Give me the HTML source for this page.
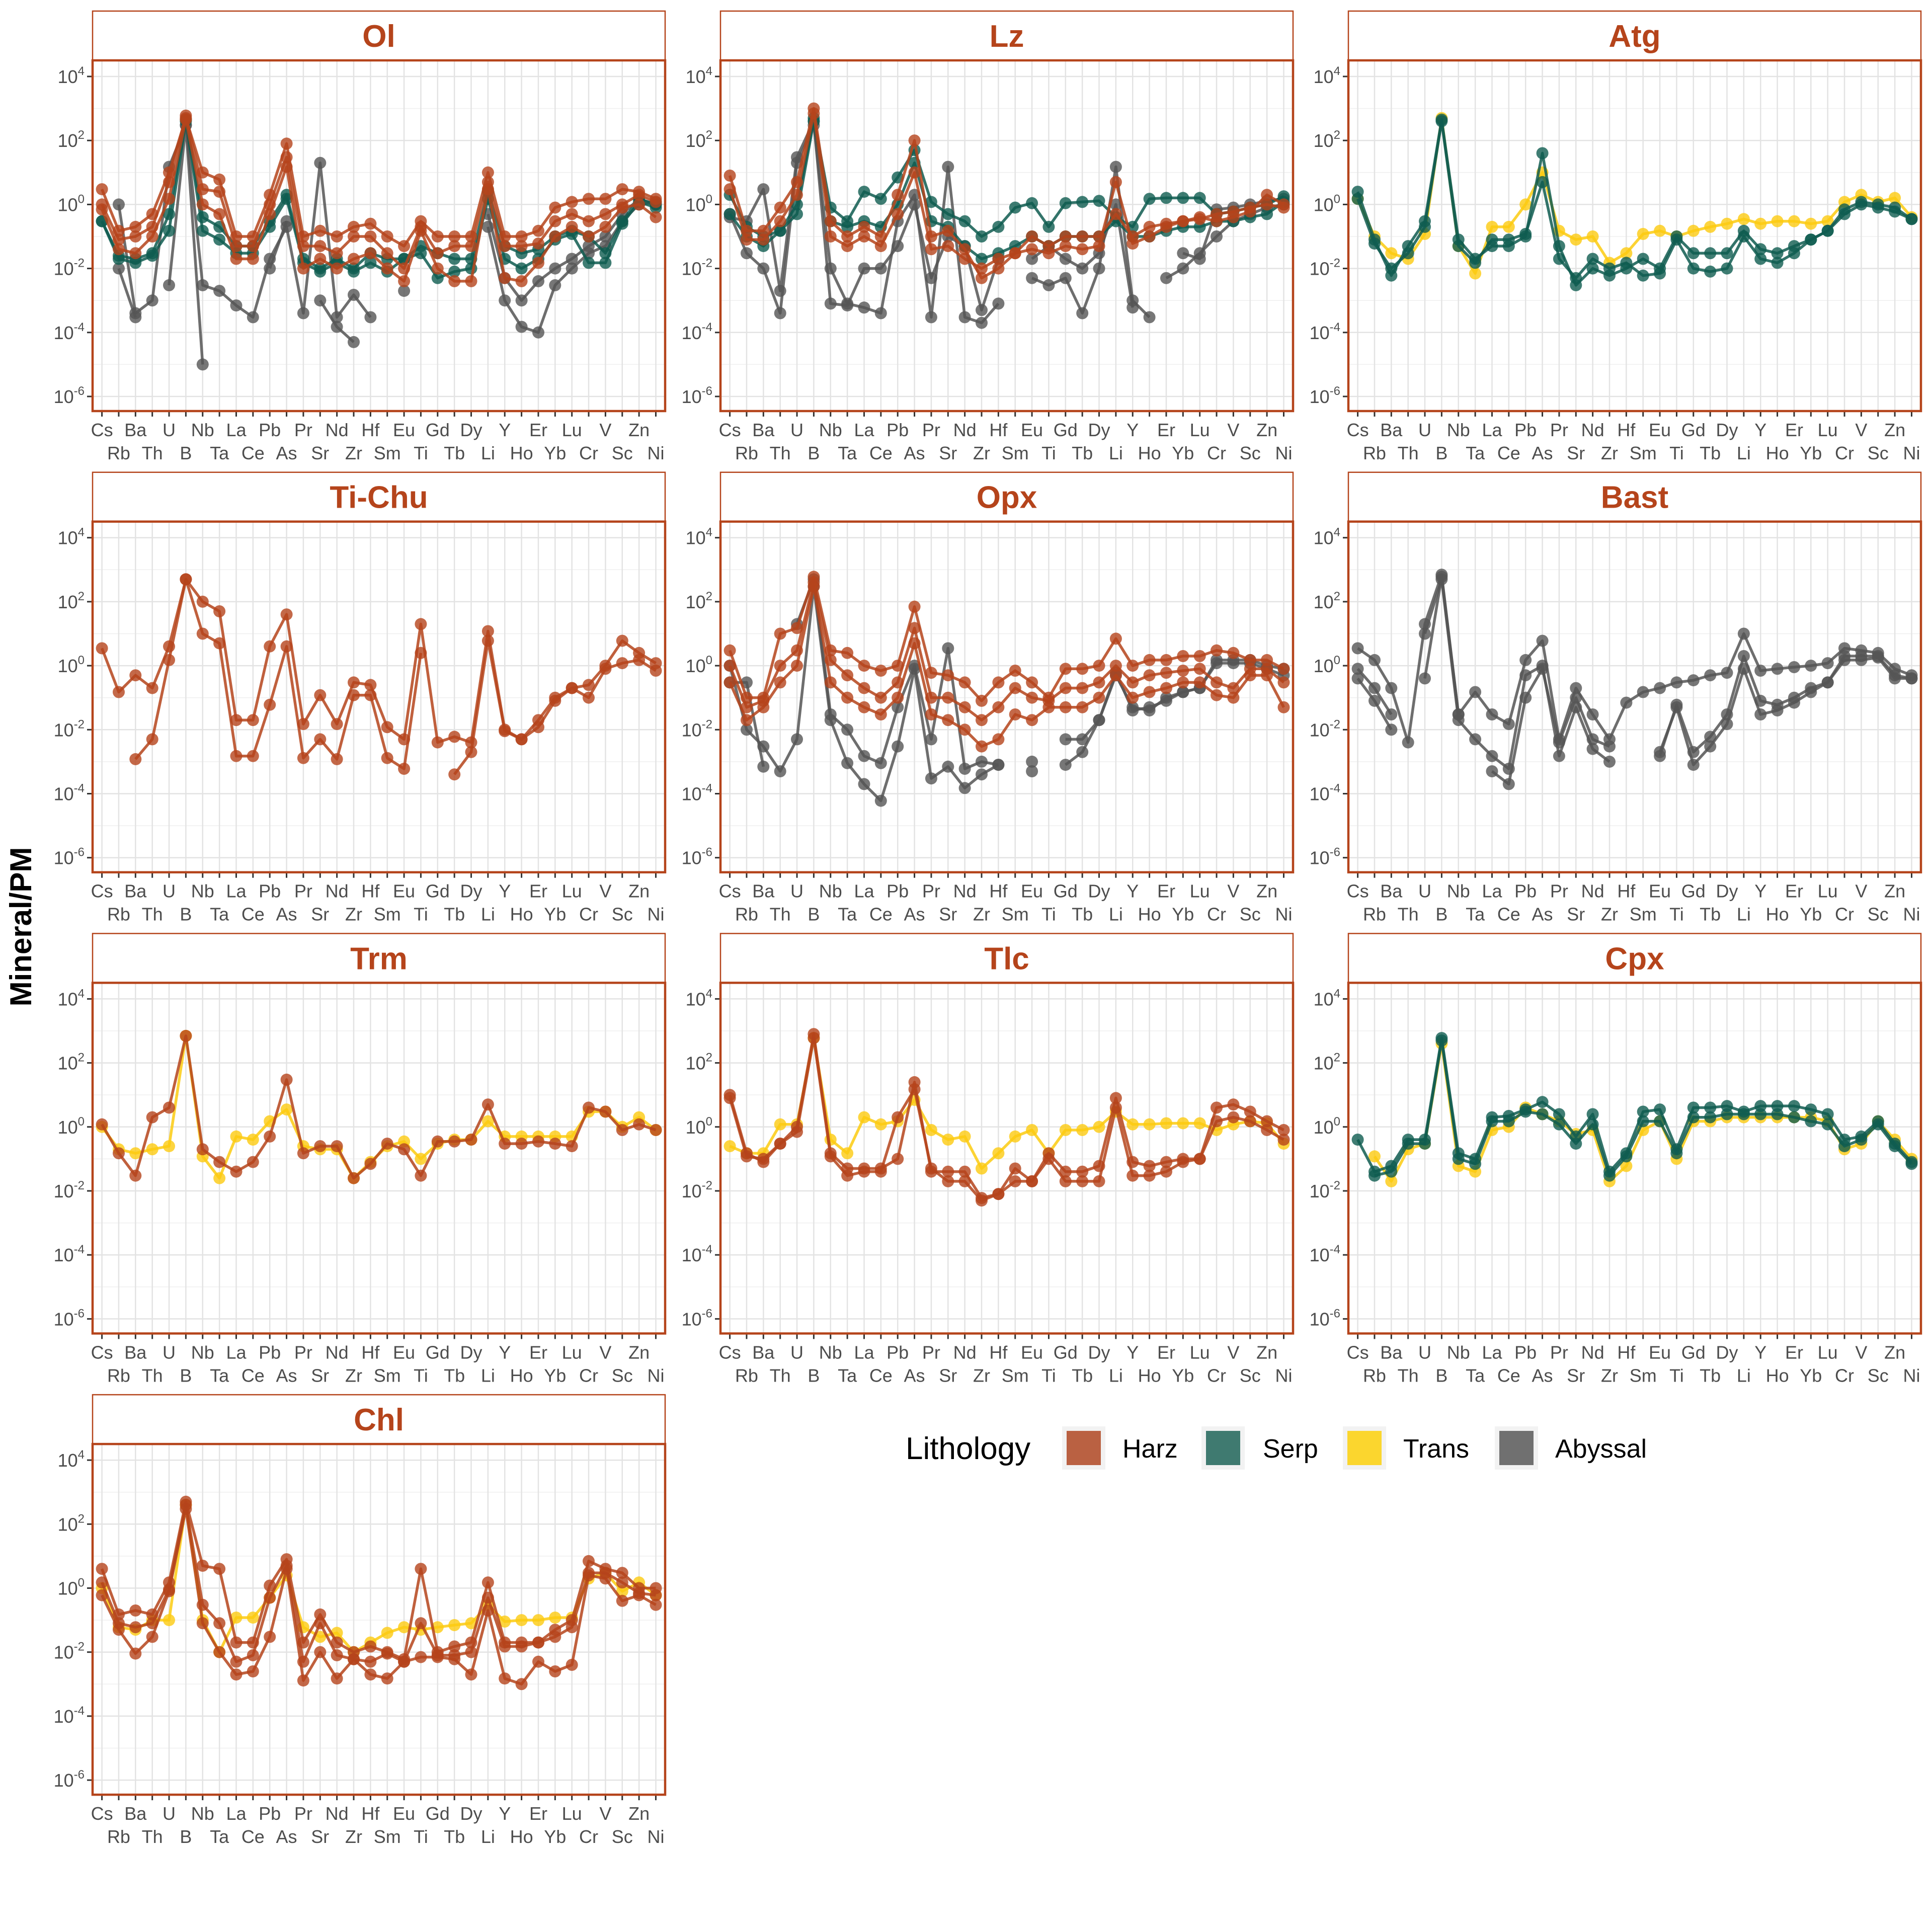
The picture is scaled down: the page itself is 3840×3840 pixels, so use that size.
<!DOCTYPE html>
<html><head><meta charset="utf-8">
<style>
html,body{margin:0;padding:0;background:#fff;}
svg{display:block;font-family:"Liberation Sans",sans-serif;}
</style></head>
<body>
<svg id="chart" width="3840" height="3840" viewBox="0 0 3840 3840" xmlns="http://www.w3.org/2000/svg">
<rect x="0" y="0" width="3840" height="3840" fill="#fff"/>
<text x="0" y="0" transform="translate(62,1842) rotate(-90)" text-anchor="middle" font-size="60" font-weight="bold" fill="#000">Mineral/PM</text>
<g>
<text x="1800" y="2900" font-size="62" fill="#000">Lithology</text>
<rect x="2111" y="2835" width="86" height="86" fill="#F2F2F2"/>
<rect x="2120" y="2844" width="68" height="68" fill="#BA6142"/>
<text x="2231" y="2897" font-size="52" fill="#000">Harz</text>
<rect x="2388" y="2835" width="86" height="86" fill="#F2F2F2"/>
<rect x="2397" y="2844" width="68" height="68" fill="#3F7A70"/>
<text x="2510" y="2897" font-size="52" fill="#000">Serp</text>
<rect x="2669" y="2835" width="86" height="86" fill="#F2F2F2"/>
<rect x="2678" y="2844" width="68" height="68" fill="#FBD62E"/>
<text x="2789" y="2897" font-size="52" fill="#000">Trans</text>
<rect x="2971" y="2835" width="86" height="86" fill="#F2F2F2"/>
<rect x="2980" y="2844" width="68" height="68" fill="#707070"/>
<text x="3091" y="2897" font-size="52" fill="#000">Abyssal</text>
</g>
</svg>
<script>
const elements = ["Cs","Rb","Ba","Th","U","B","Nb","Ta","La","Ce","Pb","As","Pr","Sr","Nd","Zr","Hf","Sm","Eu","Ti","Gd","Tb","Dy","Li","Y","Ho","Er","Yb","Lu","Cr","V","Sc","Zn","Ni"];
const yTickExponents = [4,2,0,-2,-4,-6];
const panelTitles = ["Ol","Lz","Atg","Ti-Chu","Opx","Bast","Trm","Tlc","Cpx","Chl"];
const N = null;

// Ol
const ol_harz1 = [3,0.15,0.2,0.5,10,500,10,6,0.1,0.1,2,80,0.1,0.15,0.1,0.2,0.25,0.1,0.05,0.3,0.1,0.1,0.1,10,0.1,0.1,0.15,0.8,1.2,1.5,1.5,3,2.5,1.5];
const ol_harz2 = [1,0.08,0.1,0.2,5,600,3,2.5,0.05,0.05,1,30,0.05,0.05,0.03,0.1,0.1,0.03,0.01,0.2,0.03,0.05,0.05,5,0.05,0.05,0.06,0.3,0.5,0.3,0.5,1,2,1.2];
const ol_harz3 = [0.7,0.04,0.03,0.1,1.5,450,1,0.5,0.02,0.02,0.5,15,0.01,0.02,0.01,0.02,0.03,0.01,0.004,0.15,0.01,0.004,0.004,3,0.005,0.004,0.015,0.1,0.2,0.1,0.2,0.8,1,0.4];
const ol_serp1 = [0.3,0.025,0.02,0.03,0.5,450,0.4,0.2,0.05,0.05,0.3,2,0.02,0.01,0.02,0.01,0.03,0.02,0.02,0.05,0.03,0.02,0.02,2.5,0.05,0.03,0.04,0.1,0.15,0.1,0.03,0.3,1.5,1];
const ol_serp2 = [0.3,0.02,0.015,0.025,0.15,400,0.15,0.08,0.03,0.03,0.2,1.5,0.015,0.008,0.015,0.008,0.015,0.008,0.02,0.03,0.005,0.008,0.01,1.5,0.02,0.01,0.02,0.08,0.12,0.015,0.015,0.25,1.2,0.8];
const ol_aby1 = [N,1,0.0004,0.001,15,300,0.003,0.002,0.0007,0.0003,0.02,0.2,0.0004,20,0.0003,0.0015,0.0003,N,N,N,N,N,N,0.5,0.005,0.001,0.004,0.01,0.02,0.05,0.1,0.5,1.5,1];
const ol_aby2 = [N,0.01,0.0003,N,0.003,300,0.00001,N,N,N,0.01,0.3,N,0.001,0.00015,0.00005,N,N,0.002,N,N,N,N,0.2,0.001,0.00015,0.0001,0.003,0.01,0.03,0.05,0.3,1,1.2];
// Lz
const lz_serp1 = [2,0.2,0.1,0.15,1,500,0.8,0.3,2.5,1.5,7,50,1.2,0.5,0.3,0.1,0.2,0.8,1.1,0.2,1.1,1.2,1.3,0.4,0.2,1.5,1.6,1.6,1.6,0.5,0.6,0.8,1,1.8];
const lz_serp2 = [0.5,0.1,0.05,0.15,0.5,400,0.3,0.2,0.3,0.2,1,20,0.3,0.2,0.05,0.02,0.03,0.05,0.1,0.05,0.1,0.1,0.1,0.3,0.1,0.1,0.15,0.2,0.2,0.3,0.3,0.4,0.5,1.2];
const lz_harz1 = [8,0.15,0.15,0.8,5,1000,0.3,0.1,0.2,0.1,2,100,0.1,0.15,0.04,0.005,0.01,0.03,0.04,0.03,0.05,0.04,0.05,5,0.06,0.1,0.2,0.3,0.4,0.3,0.4,0.6,2,1];
const lz_harz2 = [3,0.08,0.08,0.3,2,700,0.1,0.05,0.1,0.05,0.5,10,0.04,0.05,0.02,0.01,0.02,0.03,0.1,0.05,0.1,0.1,0.1,0.5,0.1,0.2,0.25,0.3,0.35,0.5,0.6,0.8,1,0.8];
const lz_aby1 = [0.5,0.03,0.01,0.0004,20,300,0.01,0.0008,0.0006,0.0004,0.3,2,0.0003,15,0.0003,0.0002,0.0008,N,0.005,0.003,0.005,0.0004,0.01,15,0.001,0.0003,N,0.03,0.02,0.7,0.8,1,1.3,1.5];
const lz_aby2 = [0.4,0.3,3,0.002,30,400,0.0008,0.0007,0.01,0.01,0.05,1,0.005,0.1,0.05,0.0005,0.02,N,0.02,0.05,0.02,0.01,0.03,1,0.0006,N,0.005,0.01,0.03,0.1,0.3,0.5,0.8,1];
// Atg
const atg_serp1 = [2.5,0.08,0.006,0.05,0.3,450,0.08,0.02,0.05,0.05,0.1,40,0.05,0.003,0.01,0.006,0.01,0.02,0.01,0.1,0.03,0.03,0.03,0.15,0.04,0.03,0.05,0.08,0.15,0.5,1,0.8,0.6,0.35];
const atg_serp2 = [1.5,0.06,0.01,0.03,0.2,400,0.05,0.015,0.08,0.08,0.12,5,0.02,0.005,0.02,0.01,0.015,0.006,0.007,0.08,0.01,0.008,0.01,0.1,0.02,0.015,0.03,0.08,0.15,0.7,1.2,1,0.8,0.35];
const atg_trans = [1.5,0.1,0.03,0.02,0.12,500,0.05,0.007,0.2,0.2,1,10,0.15,0.08,0.1,0.015,0.03,0.12,0.15,0.1,0.15,0.2,0.25,0.35,0.25,0.3,0.3,0.25,0.3,1.2,2,1.2,1.6,0.4];
// Ti-Chu
const tichu_harz1 = [3.5,0.15,0.5,0.2,4,500,100,50,0.02,0.02,4,40,0.015,0.12,0.015,0.3,0.25,0.012,0.005,20,0.004,0.006,0.004,12,0.01,0.005,0.02,0.1,0.2,0.25,1,6,2.5,1.2];
const tichu_harz2 = [N,N,0.0012,0.005,1.5,500,10,5,0.0015,0.0015,0.06,4,0.0013,0.005,0.0012,0.12,0.12,0.0013,0.0006,2.5,N,0.0004,0.002,6,0.009,0.005,0.012,0.08,0.2,0.1,0.8,1.2,1.5,0.7];
// Opx
const opx_harz1 = [3,0.1,0.1,10,15,600,3,2.5,1,0.7,1,70,0.6,0.5,0.3,0.08,0.3,0.7,0.3,0.1,0.8,0.8,1,7,1,1.5,1.5,2,2,3,2.5,1.5,1.5,0.8];
const opx_harz2 = [1,0.05,0.08,1,3,400,1.5,0.5,0.2,0.1,0.3,15,0.1,0.1,0.05,0.02,0.05,0.2,0.1,0.08,0.2,0.2,0.3,1,0.3,0.5,0.6,0.7,0.8,0.3,0.2,0.8,0.8,0.3];
const opx_harz3 = [0.3,0.02,0.05,0.3,1,300,0.3,0.1,0.05,0.03,0.1,5,0.03,0.02,0.01,0.003,0.005,0.03,0.02,0.05,0.05,0.05,0.1,0.5,0.1,0.15,0.2,0.3,0.3,0.12,0.1,0.5,0.5,0.05];
const opx_aby1 = [1,0.01,0.003,0.0005,0.005,300,0.02,0.0009,0.0002,0.00006,0.003,0.8,0.0003,0.0007,0.00015,0.0004,0.0008,N,0.0005,N,0.005,0.005,0.02,0.5,0.05,0.04,0.1,0.15,0.2,1.5,1.5,1.5,1,0.8];
const opx_aby2 = [0.3,0.3,0.0007,N,20,500,0.03,0.01,0.0015,0.0009,0.05,1,0.005,3.5,0.0006,0.001,0.0008,N,0.001,N,0.0008,0.002,0.02,0.6,0.04,0.05,0.08,0.15,0.2,1.2,1.2,1.2,0.8,0.5];
// Bast
const bast_aby1 = [3.5,1.5,0.2,0.004,20,700,0.03,0.15,0.03,0.015,1.5,6,0.005,0.2,0.03,0.005,0.07,0.15,0.2,0.3,0.35,0.5,0.6,10,0.7,0.8,0.9,1,1.2,3.5,3,2.5,0.8,0.5];
const bast_aby2 = [0.8,0.2,0.03,N,10,500,0.02,0.005,0.0015,0.0006,0.5,1,0.0015,0.05,0.0025,0.001,N,N,0.002,0.05,0.0008,0.003,0.015,0.8,0.03,0.04,0.07,0.15,0.3,1.5,1.5,1.8,0.4,0.4];
const bast_aby3 = [0.4,0.08,0.01,N,0.4,600,0.03,N,0.0005,0.0002,0.1,0.8,0.004,0.1,0.005,0.003,N,N,0.0015,0.06,0.002,0.006,0.03,2,0.08,0.06,0.1,0.2,0.3,2,2,2,0.5,0.4];
// Trm
const trm_harz = [1.2,0.15,0.03,2,4,700,0.2,0.08,0.04,0.08,0.5,30,0.15,0.25,0.25,0.025,0.07,0.3,0.2,0.03,0.35,0.35,0.4,5,0.3,0.3,0.35,0.3,0.25,4,3,0.8,1.2,0.8];
const trm_trans = [1,0.2,0.15,0.2,0.25,700,0.12,0.025,0.5,0.4,1.5,3.5,0.25,0.2,0.2,0.025,0.08,0.25,0.35,0.1,0.3,0.4,0.4,1.5,0.5,0.5,0.5,0.5,0.5,3,3,1,2,0.8];
// Tlc
const tlc_harz1 = [10,0.15,0.08,0.3,1,800,0.15,0.05,0.05,0.05,0.1,25,0.04,0.04,0.04,0.006,0.008,0.05,0.02,0.15,0.04,0.04,0.06,8,0.08,0.06,0.08,0.1,0.1,4,5,3,1.5,0.8];
const tlc_harz2 = [8,0.12,0.1,0.3,0.7,600,0.12,0.03,0.04,0.04,2,15,0.05,0.02,0.02,0.005,0.008,0.02,0.02,0.1,0.02,0.02,0.02,4,0.03,0.03,0.04,0.08,0.1,1.5,2,1.5,0.8,0.4];
const tlc_trans = [0.25,0.15,0.15,1.2,1.2,600,0.4,0.15,2,1.2,1.5,7,0.8,0.4,0.5,0.05,0.15,0.5,0.8,0.15,0.8,0.8,1,3,1.2,1.2,1.3,1.3,1.3,0.8,1.2,1.5,1.3,0.3];
// Cpx
const cpx_serp1 = [0.4,0.04,0.06,0.4,0.4,600,0.15,0.1,2,2.2,3.5,6,2.5,0.5,2.5,0.04,0.15,3,3.5,0.2,4,4,4.5,3,4.5,4.5,4.5,3.5,2.5,0.4,0.5,1.5,0.3,0.08];
const cpx_serp2 = [N,0.03,0.04,0.3,0.3,500,0.1,0.07,1.5,1.5,3,2.5,1.2,0.3,1.2,0.03,0.12,1.5,1.5,0.15,2,2,2.5,2.5,2.5,2.5,2,1.5,1.2,0.25,0.4,1.2,0.25,0.07];
const cpx_trans = [N,0.12,0.02,0.2,0.3,400,0.06,0.04,0.8,1,4,2.5,1.5,0.6,0.8,0.02,0.06,0.8,1.5,0.1,1.5,1.5,2,2,2,2,2,2,1.5,0.2,0.3,1.5,0.4,0.1];
// Chl
const chl_harz1 = [4,0.15,0.2,0.15,1.5,500,5,4,0.02,0.02,1.2,8,0.02,0.15,0.02,0.01,0.015,0.01,0.006,4,0.01,0.015,0.02,1.5,0.02,0.02,0.02,0.05,0.1,7,4,3,1,1];
const chl_harz2 = [1.5,0.08,0.06,0.08,0.9,400,0.3,0.08,0.005,0.008,0.5,5,0.005,0.08,0.008,0.006,0.005,0.009,0.005,0.08,0.008,0.008,0.01,0.5,0.015,0.015,0.02,0.03,0.06,3,3,1.5,0.7,0.6];
const chl_harz3 = [0.6,0.05,0.009,0.03,0.8,300,0.08,0.01,0.002,0.0025,0.03,4,0.0013,0.01,0.0015,0.006,0.002,0.0015,0.005,0.007,0.007,0.006,0.002,0.2,0.0015,0.001,0.005,0.0025,0.004,2.5,2,0.4,0.6,0.3];
const chl_trans = [1,0.06,0.05,0.1,0.1,400,0.1,0.01,0.12,0.12,0.5,2.5,0.06,0.03,0.04,0.01,0.02,0.04,0.06,0.05,0.06,0.07,0.08,0.3,0.09,0.1,0.1,0.12,0.12,2,3,0.8,1.5,0.6];

const panels = [
  {title:"Ol",col:0,row:0,series:[["abyssal",ol_aby1],["abyssal",ol_aby2],["serp",ol_serp1],["serp",ol_serp2],["harz",ol_harz3],["harz",ol_harz2],["harz",ol_harz1]]},
  {title:"Lz",col:1,row:0,series:[["abyssal",lz_aby1],["abyssal",lz_aby2],["serp",lz_serp1],["serp",lz_serp2],["harz",lz_harz2],["harz",lz_harz1]]},
  {title:"Atg",col:2,row:0,series:[["trans",atg_trans],["serp",atg_serp2],["serp",atg_serp1]]},
  {title:"Ti-Chu",col:0,row:1,series:[["harz",tichu_harz1],["harz",tichu_harz2]]},
  {title:"Opx",col:1,row:1,series:[["abyssal",opx_aby1],["abyssal",opx_aby2],["harz",opx_harz3],["harz",opx_harz2],["harz",opx_harz1]]},
  {title:"Bast",col:2,row:1,series:[["abyssal",bast_aby1],["abyssal",bast_aby2],["abyssal",bast_aby3]]},
  {title:"Trm",col:0,row:2,series:[["trans",trm_trans],["harz",trm_harz]]},
  {title:"Tlc",col:1,row:2,series:[["trans",tlc_trans],["harz",tlc_harz2],["harz",tlc_harz1]]},
  {title:"Cpx",col:2,row:2,series:[["trans",cpx_trans],["serp",cpx_serp2],["serp",cpx_serp1]]},
  {title:"Chl",col:0,row:3,series:[["trans",chl_trans],["harz",chl_harz3],["harz",chl_harz2],["harz",chl_harz1]]}
];

const lineColor = {harz:"#B5441B",serp:"#0F5C50",trans:"#FCCB10",abyssal:"#555555"};
const NS = "http://www.w3.org/2000/svg";
const svg = document.getElementById("chart");
function mk(tag, attrs, parent){
  const e = document.createElementNS(NS, tag);
  for (const k in attrs) e.setAttribute(k, attrs[k]);
  parent.appendChild(e);
  return e;
}
const colLeft = [184,1432,2680], panelW = 1138;
function rowTop(r){ return 22 + r*916.7; }
function xScale(p,i){ return colLeft[p.col] + 18.6 + i*33.36; }
function yScale(p,v){ return rowTop(p.row) + 130 + (4 - Math.log10(v))*63.6; }

panels.forEach(p=>{
  const L = colLeft[p.col], T = rowTop(p.row), pt = T+98, pb = T+795;
  const g = mk("g",{},svg);
  
  
  const strip = mk("rect",{x:L,y:T,width:panelW,height:98,fill:"#fff",stroke:"#B5441B","stroke-width":2.5},g);
  
  
  const st = mk("text",{x:L+panelW/2,y:T+71,"text-anchor":"middle","font-size":62,"font-weight":"bold",fill:"#B5441B"},g);
  st.textContent = p.title;
  
  
  for (let e=-6; e<=4; e++){
    const y = yScale(p, Math.pow(10,e));
    const gl = mk("line",{x1:L,x2:L+panelW,y1:y,y2:y,stroke:(e%2===0)?"#E3E3E3":"#EFEFEF","stroke-width":(e%2===0)?2.5:1.5},g);
    
    
  }
  elements.forEach((el,i)=>{
    const x = xScale(p,i);
    const vl = mk("line",{x1:x,x2:x,y1:pt,y2:pb,stroke:"#E3E3E3","stroke-width":2.5},g);
    
    
    const tk = mk("line",{x1:x,x2:x,y1:pb,y2:pb+11,stroke:"#333","stroke-width":3},g);
    
    
    const lb = mk("text",{x:x,y:(i%2===0)?pb+50:pb+96,"text-anchor":"middle","font-size":36,fill:"#4D4D4D"},g);
    lb.textContent = el;
    
    
  });
  yTickExponents.forEach(e=>{
    const y = yScale(p, Math.pow(10,e));
    const tk = mk("line",{x1:L-11,x2:L,y1:y,y2:y,stroke:"#333","stroke-width":3},g);
    
    
    const t = mk("text",{x:L-16,y:y+13,"text-anchor":"end","font-size":36,fill:"#4D4D4D"},g);
    
    
    const a = mk("tspan",{},t); a.textContent = "10";
    const b = mk("tspan",{dy:-16,"font-size":24},t); b.textContent = String(e);
  });
  p.series.forEach(([lith, vals], si)=>{
    const sg = mk("g",{},g);
    
    
    const c = lineColor[lith];
    let seg = [];
    const segs = [];
    vals.forEach((v,i)=>{
      if (v===null){ if (seg.length) segs.push(seg); seg=[]; }
      else seg.push([xScale(p,i), yScale(p,v)]);
    });
    if (seg.length) segs.push(seg);
    segs.forEach(s=>{
      if (s.length<2) return;
      const pl = mk("polyline",{points:s.map(q=>q[0].toFixed(1)+","+q[1].toFixed(1)).join(" "),fill:"none",stroke:c,"stroke-width":5.5,"stroke-opacity":0.85,"stroke-linejoin":"round"},sg);
      
      
    });
    vals.forEach((v,i)=>{
      if (v===null) return;
      const ci = mk("circle",{cx:xScale(p,i).toFixed(1),cy:yScale(p,v).toFixed(1),r:12,fill:c,"fill-opacity":0.8},sg);
      
      
    });
  });
  const frame = mk("rect",{x:L,y:pt,width:panelW,height:697,fill:"none",stroke:"#B5441B","stroke-width":4.5},g);
  
  
});
</script>
</body></html>
